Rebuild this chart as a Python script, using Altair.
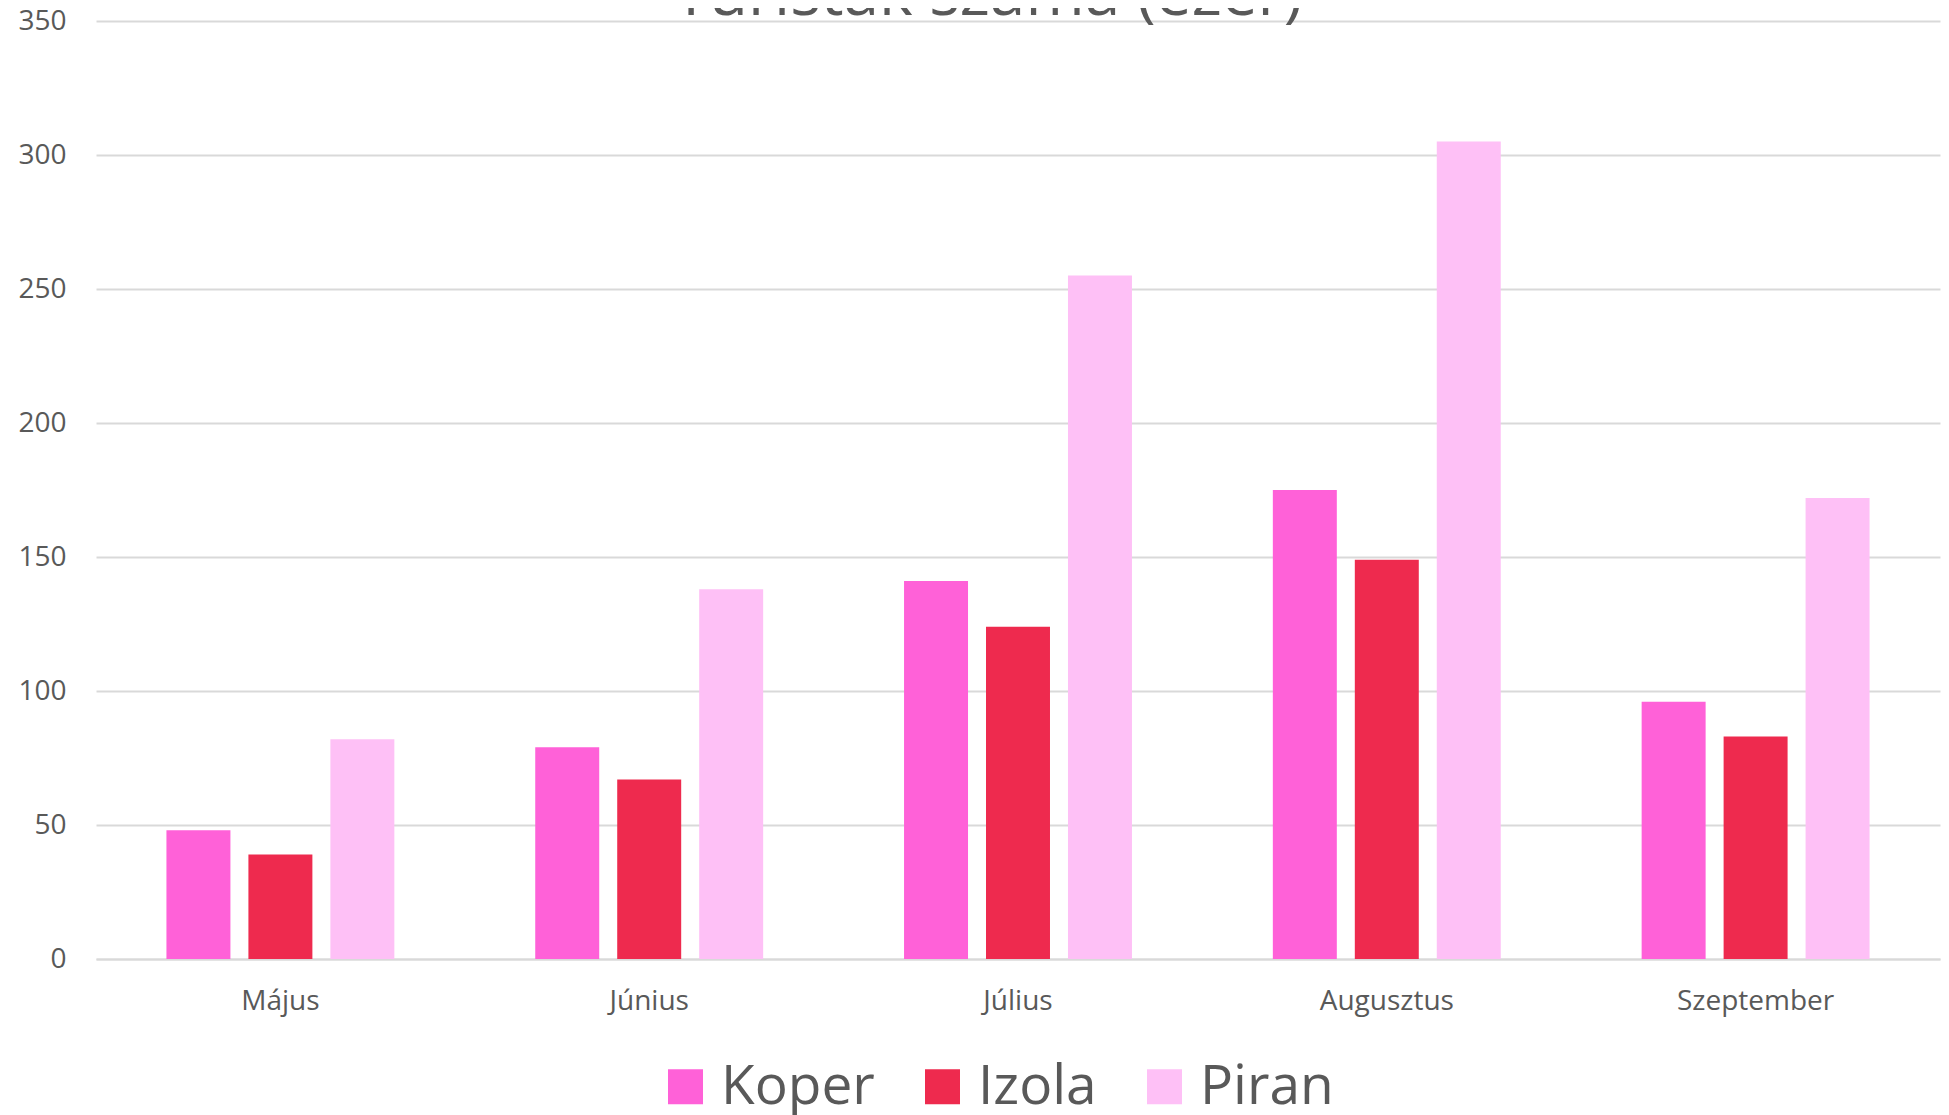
import altair as alt
import pandas as pd

months = ["Május", "Június", "Július", "Augusztus", "Szeptember"]
series = ["Koper", "Izola", "Piran"]
koper = [48, 79, 141, 175, 96]
izola = [39, 67, 124, 149, 83]
piran = [82, 138, 255, 305, 172]
colors = ["#FF61D8", "#EE2A4E", "#FEC0F6"]
y_ticks = [0, 50, 100, 150, 200, 250, 300, 350]

rows = []
for name, vals in zip(series, [koper, izola, piran]):
    for m, v in zip(months, vals):
        rows.append({"Hónap": m, "Város": name, "Érték": v})
df = pd.DataFrame(rows)

FONT = "Open Sans"
GREY = "#595959"

chart = (
    alt.Chart(df)
    .mark_bar()
    .encode(
        x=alt.X(
            "Hónap:N",
            sort=months,
            title=None,
            scale=alt.Scale(paddingInner=0.382, paddingOuter=0.191),
            axis=alt.Axis(
                labelAngle=0,
                labelFont=FONT,
                labelFontSize=28,
                labelColor=GREY,
                labelPadding=28,
                ticks=False,
                domainColor="#D9D9D9",
                domainWidth=2,
                grid=False,
            ),
        ),
        xOffset=alt.XOffset(
            "Város:N",
            sort=series,
            scale=alt.Scale(paddingInner=0.2195, paddingOuter=0),
        ),
        y=alt.Y(
            "Érték:Q",
            title=None,
            scale=alt.Scale(domain=[0, 350], nice=False),
            axis=alt.Axis(
                values=y_ticks,
                labelFont=FONT,
                labelFontSize=28,
                labelColor=GREY,
                labelPadding=30,
                ticks=False,
                domain=False,
                gridColor="#D9D9D9",
                gridWidth=2,
            ),
        ),
        color=alt.Color(
            "Város:N",
            sort=series,
            scale=alt.Scale(domain=series, range=colors),
            legend=alt.Legend(
                title=None,
                orient="none",
                direction="horizontal",
                legendX=562,
                legendY=1038,
                symbolType="square",
                symbolSize=1225,
                symbolStrokeWidth=0,
                labelFont=FONT,
                labelFontSize=55,
                labelColor=GREY,
                labelOffset=8,
                labelLimit=400,
                columnPadding=40,
                padding=0,
            ),
        ),
    )
    .properties(
        width=1844,
        height=938,
        autosize=alt.AutoSizeParams(type="none"),
        padding={"left": 88, "top": 13, "right": 1, "bottom": 156},
        title=alt.TitleParams(
            "Turisták száma (ezer)",
            font=FONT,
            fontSize=64,
            fontWeight="normal",
            color=GREY,
            anchor="middle",
            baseline="alphabetic",
            offset=0,
            dx=-30,
            dy=72,
        ),
    )
    .configure_view(stroke=None)
)

chart.save("out.html", embed_options={"renderer": "svg", "actions": False})
